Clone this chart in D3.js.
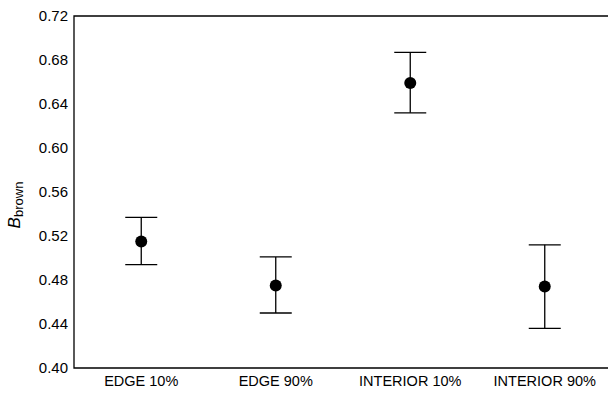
<!DOCTYPE html>
<html>
<head>
<meta charset="utf-8">
<script src="https://cdn.jsdelivr.net/npm/d3@7"></script>
<style>
  body { margin: 0; background: #fff; }
  svg { display: block; font-family: "Liberation Sans", Arial, sans-serif; }
</style>
</head>
<body>
<svg class="chart"></svg>
<script>
const width = 608, height = 393;
const plotLeft = 74, plotTop = 16, plotBottom = 368, plotRight = 612;

const groups = ['EDGE 10%', 'EDGE 90%', 'INTERIOR 10%', 'INTERIOR 90%'];
const means = [0.515, 0.475, 0.659, 0.474];
const upper = [0.537, 0.501, 0.687, 0.512];
const lower = [0.494, 0.450, 0.632, 0.436];
const yTicks = [0.40, 0.44, 0.48, 0.52, 0.56, 0.60, 0.64, 0.68, 0.72];

let y = d3.scaleLinear()
  .domain([0.40, 0.72])
  .range([plotBottom, plotTop]);
let x = d3.scaleBand()
  .domain(groups)
  .range([plotLeft, plotRight]);

let chart = d3.select(".chart")
  .attr("width", width)
  .attr("height", height);

// frame: left, top, bottom (right side runs off the page)
chart.append("path")
  .attr("d", `M${plotRight},${plotTop}H${plotLeft}V${plotBottom}H${plotRight}`)
  .attr("fill", "none")
  .attr("stroke", "#000")
  .attr("stroke-width", 1.3);

let yAxis = d3.axisLeft(y)
  .tickValues(yTicks)
  .tickSize(0)
  .tickPadding(6)
  .tickFormat(d3.format(".2f"));
chart.append("g")
  .attr("transform", `translate(${plotLeft}, 0)`)
  .call(yAxis)
  .call(g => g.select(".domain").remove())
  .selectAll("text")
  .attr("font-size", 15)
  .attr("font-family", "Liberation Sans, Arial, sans-serif")
  .attr("fill", "#000");

let xAxis = d3.axisBottom(x)
  .tickSize(0)
  .tickPadding(8);
chart.append("g")
  .attr("transform", `translate(0, ${plotBottom})`)
  .call(xAxis)
  .call(g => g.select(".domain").remove())
  .selectAll("text")
  .attr("font-size", 14.5)
  .attr("font-family", "Liberation Sans, Arial, sans-serif")
  .attr("fill", "#000");

// y title
let title = chart.append("text")
  .attr("transform", `translate(20, 205) rotate(-90)`)
  .attr("text-anchor", "middle")
  .attr("font-size", 17);
title.append("tspan").attr("font-style", "italic").text("B");
title.append("tspan").attr("font-size", 13).attr("dy", 3).text("brown");

let cap = 16;
let bars = chart.append("g").selectAll("g")
  .data(groups)
  .enter().append("g")
  .attr("transform", d => `translate(${x(d) + x.bandwidth() / 2}, 0)`);

bars.append("line")
  .attr("y1", (d, i) => y(upper[i]))
  .attr("y2", (d, i) => y(lower[i]))
  .attr("stroke", "#000")
  .attr("stroke-width", 1.3);
bars.append("line")
  .attr("x1", -cap).attr("x2", cap)
  .attr("y1", (d, i) => y(upper[i]))
  .attr("y2", (d, i) => y(upper[i]))
  .attr("stroke", "#000")
  .attr("stroke-width", 1.3);
bars.append("line")
  .attr("x1", -cap).attr("x2", cap)
  .attr("y1", (d, i) => y(lower[i]))
  .attr("y2", (d, i) => y(lower[i]))
  .attr("stroke", "#000")
  .attr("stroke-width", 1.3);
bars.append("circle")
  .attr("cy", (d, i) => y(means[i]))
  .attr("r", 6)
  .attr("fill", "#000");
</script>
</body>
</html>
